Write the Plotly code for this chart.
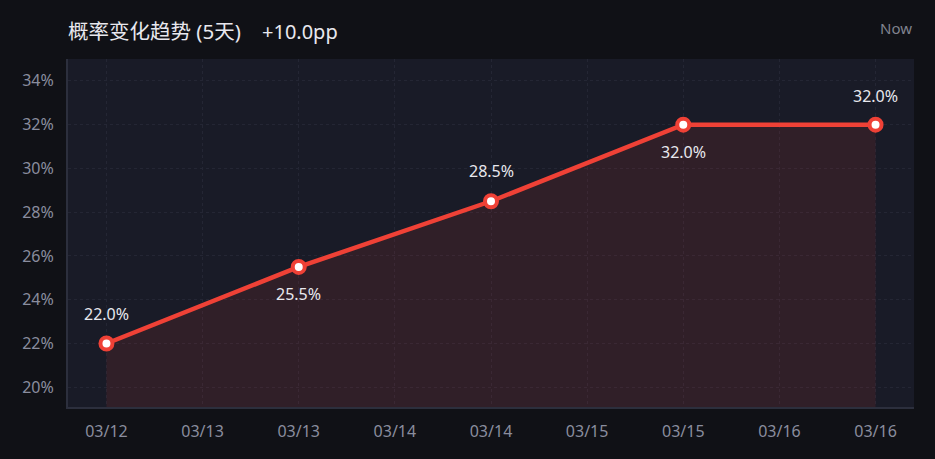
import plotly.graph_objects as go

# data
days = [0, 1, 2, 3, 4]
probability = [22.0, 25.5, 28.5, 32.0, 32.0]
label_shift = [30, -27, 30, -27, 29]   # + above the point, - below

tick_vals = [0, 0.5, 1, 1.5, 2, 2.5, 3, 3.5, 4]
tick_text = ['03/12', '03/13', '03/13', '03/14', '03/14', '03/15', '03/15', '03/16', '03/16']
y_ticks = [20, 22, 24, 26, 28, 30, 32, 34]

title_main = '概率变化趋势 (5天)'
title_delta = '+10.0pp'

RED = '#ef4136'
font_family = 'Noto Sans, Noto Sans CJK SC, sans-serif'

trace = go.Scatter(
    x=days,
    y=probability,
    mode='lines+markers',
    line=dict(color=RED, width=4.5),
    marker=dict(size=12, color='white', line=dict(color=RED, width=4)),
    fill='tozeroy',
    fillcolor='rgba(239,65,54,0.11)',
    hoverinfo='skip',
    cliponaxis=False,
)

# value labels, alternating above / below the points
annotations = []
for d, p, s in zip(days, probability, label_shift):
    annotations.append(dict(
        x=d, y=p, yshift=s, text=f'{p:.1f}%', showarrow=False,
        xanchor='center', yanchor='middle',
        font=dict(size=16, color='#e8e8ee', family=font_family),
    ))

annotations.append(dict(
    text=title_main, xref='paper', yref='paper', x=0, y=1, yshift=28, xshift=-2,
    xanchor='left', yanchor='middle', showarrow=False,
    font=dict(size=20.5, color='#e8e8ee', family=font_family)))
annotations.append(dict(
    text=title_delta, xref='paper', yref='paper', x=0, y=1, yshift=28, xshift=192,
    xanchor='left', yanchor='middle', showarrow=False,
    font=dict(size=20, color='#e8e8ee', family=font_family)))
annotations.append(dict(
    text='Now', xref='paper', yref='paper', x=1, y=1, yshift=31,
    xanchor='right', yanchor='middle', showarrow=False,
    font=dict(size=15, color='#80838f', family=font_family)))

layout = go.Layout(
    width=935,
    height=459,
    paper_bgcolor='#101116',
    plot_bgcolor='#191b27',
    margin=dict(l=68, r=21, t=59, b=52),
    font=dict(family=font_family, color='#8a8d9e'),
    showlegend=False,
    xaxis=dict(
        range=[-0.2, 4.2],
        tickvals=tick_vals,
        ticktext=tick_text,
        tickfont=dict(size=16, color='#8a8d9e'),
        showgrid=True,
        gridcolor='#242634',
        griddash='3px,3px',
        gridwidth=1,
        showline=True,
        linecolor='#2c2f3d',
        linewidth=2,
        zeroline=False,
        ticks='',
        ticklabelstandoff=9,
    ),
    yaxis=dict(
        range=[19.1, 35.0],
        tickvals=y_ticks,
        ticktext=[f'{v}%' for v in y_ticks],
        tickfont=dict(size=16, color='#8a8d9e'),
        showgrid=True,
        gridcolor='#242634',
        griddash='3px,3px',
        gridwidth=1,
        showline=True,
        linecolor='#2c2f3d',
        linewidth=2,
        zeroline=False,
        ticks='',
        ticklabelstandoff=9,
    ),
    annotations=annotations,
)

fig = go.Figure(data=[trace], layout=layout)
fig.write_html('out.html', config={'displayModeBar': False},
               post_script="document.body.style.margin='0';")
